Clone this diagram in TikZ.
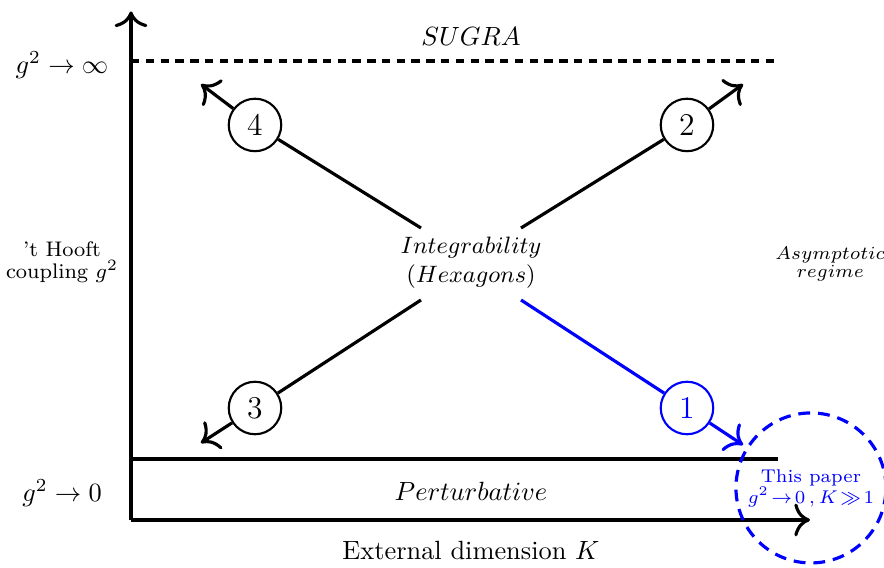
\documentclass[tikz,border=0pt]{standalone}
\usepackage{xcolor}
\usepackage{amssymb}
\usepackage{amsmath}
\usepackage{tikz}
\usetikzlibrary{calc}
\usetikzlibrary{arrows,arrows.meta}
\tikzstyle{every node}=[font=\normalsize]
\tikzstyle{numcirc}=[circle, draw, thick, fill=white, minimum size=0.7cm, inner sep=0pt, font=\large]
\tikzstyle{flow}=[very thick]

\begin{document}
\begin{tikzpicture}[>={To[scale=1.4]}]
                \useasboundingbox (0,0) rectangle (11.787,7.573);

                % axes and the two limits
                \coordinate (O) at (1.747, 0.64);
                \coordinate (Ytop) at (1.747, 7.42);
                \coordinate (Xend) at (10.8, 0.64);
                \coordinate (Sl) at (1.747, 6.76);
                \coordinate (Sr) at (10.373, 6.76);
                \coordinate (Pl) at (1.747, 1.453);
                \coordinate (Pr) at (10.373, 1.453);

                \draw [flow, ->] (O) -- (Ytop);
                \draw [flow, ->] (O) -- (Xend);
                \draw [flow, dash pattern=on 3.2pt off 2.4pt] (Sl) -- (Sr);
                \draw [flow] (Pl) -- (Pr);

                \node (ginf) at (0.827, 6.707) {$g^2\to\infty$};
                \node (gzero) at (0.827, 1.0) {$g^2\to0$};
                \node (hooft) [font=\footnotesize, align=center] at (0.827, 4.08) {'t Hooft\\[-1pt] coupling $g^2$};
                \node (sugra) at (6.28, 7.08) {$SUGRA$};
                \node (pert) at (6.28, 1.027) {$Perturbative$};
                \node (xlab) at (6.28, 0.227) {External dimension $K$};
                \node (asym) [font=\scriptsize, align=center] at (11.07, 4.05) {$Asymptotic$\\[-1pt] $regime$};

                % centre and the four directions
                \node (intg) [font=\small, align=center] at (6.28, 4.067) {$Integrability$\\ $(Hexagons)$};
                \coordinate (s4) at (5.613, 4.533);
                \coordinate (s2) at (6.947, 4.533);
                \coordinate (s3) at (5.613, 3.573);
                \coordinate (s1) at (6.947, 3.573);
                \coordinate (t4) at (2.68, 6.45);
                \coordinate (t2) at (9.907, 6.45);
                \coordinate (t3) at (2.68, 1.667);
                \coordinate (t1) at (9.907, 1.64);

                \node (c4) [numcirc] at (3.4, 5.907) {4};
                \node (c2) [numcirc] at (9.16, 5.907) {2};
                \node (c3) [numcirc] at (3.4, 2.133) {3};
                \node (c1) [numcirc, draw=blue, text=blue] at (9.16, 2.133) {1};

                \draw [flow] (s4) -- (c4);
                \draw [flow, ->] (c4) -- (t4);
                \draw [flow] (s2) -- (c2);
                \draw [flow, ->] (c2) -- (t2);
                \draw [flow] (s3) -- (c3);
                \draw [flow, ->] (c3) -- (t3);
                \draw [flow, blue] (s1) -- (c1);
                \draw [flow, blue, ->] (c1) -- (t1);

                % this paper
                \draw [flow, blue, dash pattern=on 4.5pt off 3pt] (10.813, 1.067) circle (1.0);
                \node (paper) [blue, font=\scriptsize, align=center] at (10.813, 1.067) {This paper\\ $g^2\!\to\!0\,,K\!\gg\!1$};
            \end{tikzpicture}
\end{document}
